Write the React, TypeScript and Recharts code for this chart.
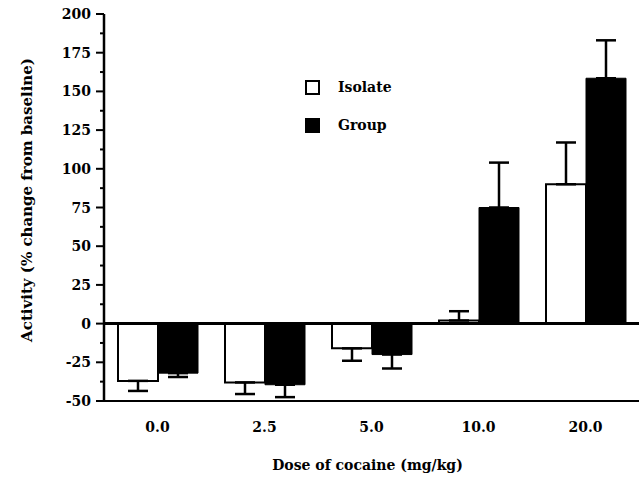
import { BarChart, Bar, XAxis, YAxis, ReferenceLine, ErrorBar } from 'recharts'

const FONT = '"DejaVu Serif", serif'

// dose groups and mean activity (% change from baseline) with SEM
const doses = ['0.0', '2.5', '5.0', '10.0', '20.0']
const isolateMean = [-37, -38, -16, 2, 90]
const isolateSem = [6.5, 7.5, 8, 6, 27]
const groupMean = [-32, -39.5, -20, 75, 158.5]
const groupSem = [2.5, 8, 9, 29, 24.5]

// major ticks carry a label, the ones in between are short minor marks
const yTicks = [
  -50, -37.5, -25, -12.5, 0, 12.5, 25, 37.5, 50, 62.5, 75, 87.5,
  100, 112.5, 125, 137.5, 150, 162.5, 175, 187.5, 200,
]
const yMajor = [-50, -25, 0, 25, 50, 75, 100, 125, 150, 175, 200]

const oneSided = (mean: number, sem: number) => (mean < 0 ? [sem, 0] : [0, sem])

const data = doses.map((dose, i) => ({
  dose,
  isolate: isolateMean[i],
  group: groupMean[i],
  isoErr: oneSided(isolateMean[i], isolateSem[i]),
  grpErr: oneSided(groupMean[i], groupSem[i]),
}))

function YTick({ x, y, payload }: any) {
  const major = yMajor.includes(payload.value)
  return (
    <g>
      <line x1={x - (major ? 8 : 4)} x2={x} y1={y} y2={y} stroke="#000" strokeWidth={2} />
      {major && (
        <text x={x - 13} y={y} dy={5} textAnchor="end" fontFamily={FONT} fontWeight="bold" fontSize={14} fill="#000">
          {payload.value}
        </text>
      )}
    </g>
  )
}

function YTitle() {
  return (
    <text
      x={27} y={200}
      transform="rotate(-90 27 200)"
      textAnchor="middle" dominantBaseline="central"
      fontFamily={FONT} fontWeight="bold" fontSize={15} fill="#000"
    >
      Activity (% change from baseline)
    </text>
  )
}

function LegendBox() {
  const items = [
    { name: 'Isolate', fill: '#fff' },
    { name: 'Group', fill: '#000' },
  ]
  return (
    <div style={{ position: 'absolute', left: 305, top: 68, fontFamily: FONT, fontWeight: 'bold', fontSize: 14, color: '#000' }}>
      {items.map(it => (
        <div key={it.name} style={{ display: 'flex', alignItems: 'center', height: 38 }}>
          <span style={{ width: 11, height: 11, border: '2px solid #000', background: it.fill, marginRight: 18 }} />
          <span>{it.name}</span>
        </div>
      ))}
    </div>
  )
}

export default function App() {
  return (
    <div style={{ position: 'absolute', left: 0, top: 0, width: 641, height: 479, background: '#fff' }}>
      <BarChart
        width={641}
        height={479}
        data={data}
        margin={{ top: 14, right: 2, bottom: 0, left: 0 }}
        barGap={0}
        barSize={40}
      >
        <XAxis
          dataKey="dose"
          height={78}
          axisLine={{ stroke: '#000', strokeWidth: 2 }}
          tickLine={false}
          tickSize={0}
          tickMargin={21}
          tick={{ fill: '#000', fontFamily: FONT, fontWeight: 'bold', fontSize: 14 }}
          label={{
            value: 'Dose of cocaine (mg/kg)',
            position: 'insideBottom',
            offset: 9,
            dx: -4,
            fill: '#000',
            fontFamily: FONT,
            fontWeight: 'bold',
            fontSize: 14,
          }}
        />
        <YAxis
          width={104}
          domain={[-50, 200]}
          ticks={yTicks}
          interval={0}
          axisLine={{ stroke: '#000', strokeWidth: 2.5 }}
          tickLine={false}
          tickSize={0}
          tickMargin={0}
          tick={<YTick />}
          label={<YTitle />}
        />
        <Bar dataKey="isolate" name="Isolate" fill="#fff" stroke="#000" strokeWidth={2} isAnimationActive={false}>
          <ErrorBar dataKey="isoErr" width={10} stroke="#000" strokeWidth={2.5} isAnimationActive={false} />
        </Bar>
        <Bar dataKey="group" name="Group" fill="#000" stroke="#000" strokeWidth={1} isAnimationActive={false}>
          <ErrorBar dataKey="grpErr" width={10} stroke="#000" strokeWidth={2.5} isAnimationActive={false} />
        </Bar>
        <ReferenceLine y={0} stroke="#000" strokeWidth={3} />
      </BarChart>
      <LegendBox />
    </div>
  )
}
